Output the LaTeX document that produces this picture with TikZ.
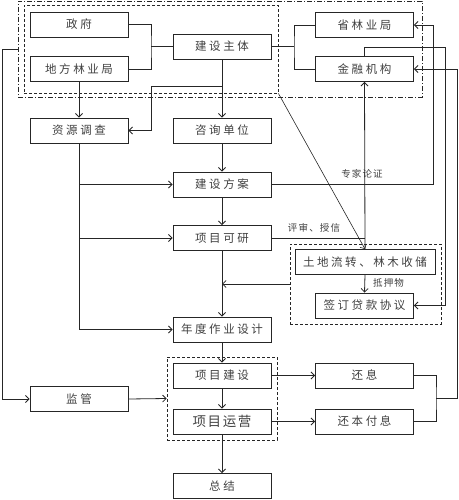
\documentclass[tikz,border=0pt]{standalone}
\usepackage{fontspec}
\newfontfamily\cjk[LetterSpace=22]{Noto Sans CJK SC}
\newfontfamily\cjks[LetterSpace=12]{Noto Sans CJK SC}
\usetikzlibrary{arrows.meta}
\tikzset{
  box/.style={draw=black!85, line width=0.9pt, minimum width=98pt, minimum height=25pt, inner sep=0pt, text=black!75, font=\cjk\fontsize{11.5}{12}\selectfont},
  grp/.style={draw=black!85, line width=0.8pt, dashed, dash pattern=on 3pt off 2pt, inner sep=0pt},
  dgrp/.style={draw=black!85, line width=0.8pt, dash pattern=on 5pt off 2pt on 1pt off 2pt, inner sep=0pt},
  conn/.style={draw=black!85, line width=0.8pt},
  arr/.style={conn, -{Straight Barb[length=3.5pt,width=7pt]}},
  lab/.style={text=black!75, font=\cjks\fontsize{9.5}{10}\selectfont, inner sep=0pt}
}
\begin{document}
\begin{tikzpicture}[x=1pt,y=-1pt]
\useasboundingbox (0,0) rectangle (458,500);
% groups
\node[dgrp, minimum width=404pt, minimum height=96pt] (outer) at (220,49) {};
\node[grp, minimum width=254pt, minimum height=88pt] (inner) at (151,49) {};
\node[grp, minimum width=151pt, minimum height=80pt] (loan) at (365.5,284) {};
\node[grp, minimum width=110pt, minimum height=83pt] (ops) at (222,398.5) {};
% boxes
\node[box] (gov) at (79,24.5) {政府};
\node[box] (dfl) at (79,69) {地方林业局};
\node[box] (jszt) at (222,46.5) {建设主体};
\node[box] (slj) at (364.5,25) {省林业局};
\node[box] (jrjg) at (364.5,69) {金融机构};
\node[box] (zydc) at (79,130.5) {资源调查};
\node[box] (zxdw) at (222,130.5) {咨询单位};
\node[box] (jsfa) at (222,184.5) {建设方案};
\node[box] (xmky) at (222,238) {项目可研};
\node[box, minimum width=140pt] (tdlz) at (365,262) {土地流转、林木收储};
\node[box] (qdxy) at (364.5,305.5) {签订贷款协议};
\node[box] (ndzy) at (222,329.5) {年度作业设计};
\node[box] (xmjs) at (222,375.5) {项目建设};
\node[box, font=\cjks\fontsize{13.5}{14}\selectfont] (xmyy) at (222,421.5) {项目运营};
\node[box] (zj) at (222,486) {总结};
\node[box] (jg) at (79,399) {监管};
\node[box] (hx) at (364.5,375.5) {还息};
\node[box] (hbfx) at (364.5,421.5) {还本付息};
% junction coordinates
\coordinate (j1) at (151,46.5);
\coordinate (j2) at (294,46.5);
\coordinate (l1) at (2,49);
\coordinate (b1) at (222,86);
\coordinate (b2) at (151,86);
\coordinate (r1) at (433,184.5);
\coordinate (r2) at (445,47);
\coordinate (r3) at (436,398.5);
\coordinate (r4) at (457,398.5);
% connectors top
\draw[conn] (gov.east) -| (j1) |- (dfl.east);
\draw[conn] (j1) -- (jszt.west);
\draw[conn] (slj.west) -| (j2) |- (jrjg.west);
\draw[conn] (jszt.east) -- (j2);
\draw[arr] (outer.west) -- (l1) |- (jg.west);
\draw[arr] (dfl.south) -- (zydc.north);
\draw[arr] (jszt.south) -- (zxdw.north);
\draw[arr] (b1) -- (b2) |- (zydc.east);
\draw[arr, line width=0.6pt] (inner.south east) -- (tdlz.north);
% main column
\draw[arr] (zxdw.south) -- (jsfa.north);
\draw[arr] (jsfa.south) -- (xmky.north);
\draw[arr] (xmky.south) -- (ndzy.north);
\draw[arr] (ndzy.south) -- (xmjs.north);
\draw[arr] (xmjs.south) -- (xmyy.north);
\draw[arr] (xmyy.south) -- (zj.north);
% left branch
\draw[arr] (zydc.south) |- (ndzy.west);
\draw[arr] (zydc.south |- jsfa.west) -- (jsfa.west);
\draw[arr] (zydc.south |- xmky.west) -- (xmky.west);
% right side
\draw[arr] (jsfa.east) -- (r1) |- (slj.east);
\node[lab] (l_zj) at (362,174) {专家论证};
\draw[conn] (xmky.east) -- (xmky.east -| tdlz.north);
\node[lab] (l_ps) at (314,228) {评审、授信};
\draw[arr] (tdlz.north) -- (jrjg.south);
\draw[arr] (jrjg.north) |- (r2) |- (qdxy.east);
\draw[arr] (tdlz.south) -- (qdxy.north);
\node[lab, anchor=west] (l_dy) at (373,283) {抵押物};
\draw[arr] (loan.west) -- (loan.west -| xmky.south);
\draw[arr] (jg.east) -- (ops.west);
\draw[arr] (xmjs.east) -- (hx.west);
\draw[arr] (xmyy.east) -- (hbfx.west);
\draw[conn] (hx.east) -| (r3) |- (hbfx.east);
\draw[arr] (r3) -- (r4) |- (jrjg.east);
\end{tikzpicture}
\end{document}
